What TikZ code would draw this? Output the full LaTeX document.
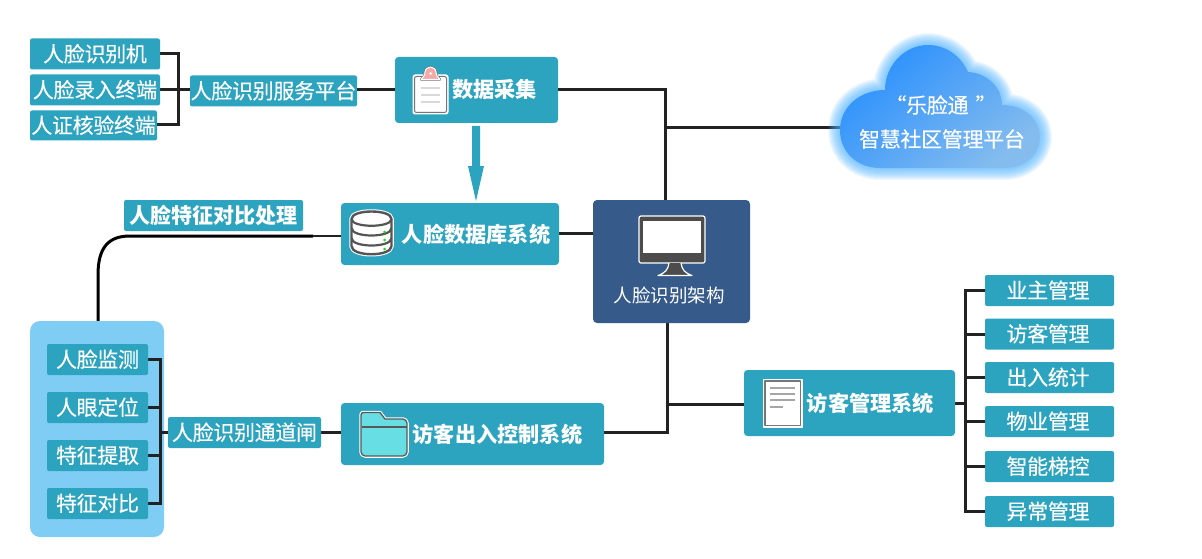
\documentclass[tikz,border=0pt]{standalone}
\usepackage{fontspec}
\setmainfont{Noto Sans CJK SC}
\newfontfamily\semi[FakeBold=0.25,LetterSpace=-1.5]{Noto Sans CJK SC}
\definecolor{teal}{HTML}{2CA3BF}
\definecolor{navy}{HTML}{365B8A}
\definecolor{wire}{HTML}{222222}
\definecolor{panel}{HTML}{7FCDF5}
\definecolor{icong}{HTML}{777777}
\definecolor{clip}{HTML}{F5A8A8}
\definecolor{foldc}{HTML}{67DDE4}
\definecolor{glow}{HTML}{4FB2FF}
\definecolor{cloudA}{HTML}{2A90FD}
\definecolor{cloudB}{HTML}{84BCEE}
\definecolor{dbg}{HTML}{555555}
\tikzset{
 x=1pt,y=-1pt,
 tbox/.style={fill=teal,rounded corners=2pt,inner sep=0pt,text=white,font=\fontsize{21}{21}\semi,minimum height=31pt,text height=17pt,text depth=1.5pt},
 rcol/.style={tbox,minimum width=129pt,execute at end node=\hspace*{3pt}},
 bbox/.style={fill=teal,rounded corners=3.5pt,inner sep=0pt},
 wirel/.style={draw=wire,line width=3pt},
 icon/.style={line join=round},
 bt/.style={text=white,font=\fontsize{21.2}{21}\selectfont\bfseries,inner sep=0pt},
}
\begin{document}
\begin{tikzpicture}
\useasboundingbox (0,0) rectangle (1202,559);
\node[fill=panel,rounded corners=10pt,minimum width=134pt,minimum height=216pt,inner sep=0pt] (pan) at (97,429) {};
\coordinate (cw) at (840,127.5);
\coordinate (brA) at (178,90);
\coordinate (brB) at (160,432);
\coordinate (brC) at (965,403);
\coordinate (tj) at (665,127.5);
\coordinate (bj) at (667,404);
% connectors
\draw[wirel] (160,54) -| (brA |- 0,125) -- (157,125);
\draw[wirel] (160,90) -- (190,90);
\draw[wirel] (357,90) -- (395,90);
\draw[wirel] (558,90) -| (665,200);
\draw[wirel] (tj) -- (cw);
\draw[wirel] (559,233.5) -- (593,233.5);
\draw[wirel] (667,323) -- (667,432.5) -- (604,432.5);
\draw[wirel] (bj) -- (744,404);
\draw[wirel] (321,432.5) -- (341,432.5);
\draw[wirel] (148,359.5) -| (brB |- 0,503.5) -- (148,503.5);
\draw[wirel] (148,407.5) -- (brB |- 0,407.5);
\draw[wirel] (148,455.5) -- (brB |- 0,455.5);
\draw[wirel] (brB) -- (168,432);
\draw[wirel] (955,403) -- (brC);
\draw[wirel] (985,290.5) -| (brC |- 0,511.5) -- (985,511.5);
\foreach \y in {334,377.5,421.5,466.5} \draw[wirel] (985,\y) -- (brC |- 0,\y);
\draw[draw=black,line width=3pt] (pan.north -| 98,0) -- (98,275) .. controls (98,248) and (108,236) .. (130,236) -- (313,236);
\draw[draw=wire,line width=1.5pt] (313,236) -- (341,236);
% boxes
\node[tbox,minimum width=130pt] (a1) at (95,54) {人脸识别机};
\node[tbox,minimum width=130pt] (a2) at (95,90) {人脸录入终端};
\node[tbox,minimum width=127pt,minimum height=30pt] (a3) at (93.5,125.5) {人证核验终端};
\node[tbox,minimum width=167pt] (svc) at (273.5,91) {人脸识别服务平台};
\node[bbox,minimum width=163pt,minimum height=66pt] (data) at (476.5,90) {};
\node[bbox,minimum width=218pt,minimum height=62pt] (db) at (450,234) {};
\node[tbox,minimum width=179pt,font=\fontsize{21}{21}\selectfont\bfseries] (cmp) at (213.5,215.5) {人脸特征对比处理};
\node[fill=navy,rounded corners=4pt,minimum width=157pt,minimum height=123pt,inner sep=0pt] (mon) at (671.5,261.5) {};
\node[tbox,minimum width=101pt] (f1) at (97.5,359.5) {人脸监测};
\node[tbox,minimum width=101pt] (f2) at (97.5,407.5) {人眼定位};
\node[tbox,minimum width=101pt] (f3) at (97.5,455.5) {特征提取};
\node[tbox,minimum width=101pt] (f4) at (97.5,503.5) {特征对比};
\node[tbox,minimum width=153pt] (gate) at (244.5,432.5) {人脸识别通道闸};
\node[bbox,minimum width=263pt,minimum height=62pt] (ctl) at (472.5,434) {};
\node[bbox,minimum width=211pt,minimum height=66pt] (vis) at (849.5,403) {};
\node[rcol] (m1) at (1049.5,290.5) {业主管理};
\node[rcol] (m2) at (1049.5,334) {访客管理};
\node[rcol] (m3) at (1049.5,377.5) {出入统计};
\node[rcol] (m4) at (1049.5,421.5) {物业管理};
\node[rcol] (m5) at (1049.5,466.5) {智能梯控};
\node[rcol] (m6) at (1049.5,511.5) {异常管理};
% big arrow
\fill[teal] (472,126) -- (480,126) -- (480,166) -- (484,166) -- (476,201) -- (468,166) -- (472,166) -- cycle;
% cloud
\def\cloudpath{(880,168) .. controls (857,168) and (840,152) .. (840,130) .. controls (840,107) and (860,90) .. (885,90) .. controls (885,65) and (905,45) .. (928,45) .. controls (946,45) and (961,56) .. (968,72) .. controls (987,73) and (1002,87) .. (1002,105) .. controls (1024,105) and (1040,119) .. (1040,137) .. controls (1040,155) and (1024,168) .. (1005,168) -- cycle}
\foreach \w in {24,22,20,18,16,14,12,10,8,6,4,2}
  \draw[draw=glow,opacity=.09,line width=\w pt,line join=round] \cloudpath;
\shade[shading=axis,left color=cloudA,right color=cloudB,shading angle=40] \cloudpath;
\node[text=white,font=\fontsize{21}{21}\semi,inner sep=0pt] (c1) at (941,105) {“乐脸通\,\,”};
\node[text=white,font=\fontsize{21}{21}\semi,inner sep=0pt] (c2) at (942,139) {智慧社区管理平台};
% clipboard icon
\begin{scope}[icon]
\draw[draw=white,line width=1pt,fill=white,rounded corners=2pt] (413,75) rectangle (448,114);
\draw[draw=icong,line width=1pt,fill=white,rounded corners=2pt] (414.5,76.5) rectangle (446.5,112.5);
\draw[draw=icong,line width=2.2pt,fill=clip] (421,79.5) .. controls (423,77) and (425,76) .. (425,72) .. controls (426,65.5) and (435,65.5) .. (436,72) .. controls (436,76) and (438,77) .. (440,79.5) -- cycle;
\draw[draw=white,line width=1pt,fill=clip] (421,79.5) .. controls (423,77) and (425,76) .. (425,72) .. controls (426,65.5) and (435,65.5) .. (436,72) .. controls (436,76) and (438,77) .. (440,79.5) -- cycle;
\fill[white] (430.5,73.5) circle (1.5);
\foreach \y in {88,95,102} \draw[draw=black!15,line width=1.5pt] (421,\y) -- (440,\y);
\end{scope}
\node[bt] (t1) at (494.5,89.5) {数据采集};
% db icon
\begin{scope}[icon]
\def\cyl{(351.5,219) .. controls (351.5,209) and (391.5,209) .. (391.5,219) -- (391.5,246) .. controls (391.5,257) and (351.5,257) .. (351.5,246) -- cycle}
\draw[draw=white,line width=4.5pt,fill=white] \cyl;
\draw[draw=dbg,line width=2.4pt,fill=white] \cyl;
\draw[draw=dbg,line width=2.2pt] (351.5,219) .. controls (351.5,228) and (391.5,228) .. (391.5,219);
\draw[draw=dbg,line width=2.2pt] (351.5,228) .. controls (351.5,238) and (391.5,238) .. (391.5,228);
\draw[draw=dbg,line width=2.2pt] (351.5,238) .. controls (351.5,248) and (391.5,248) .. (391.5,238);
\foreach \y in {232,240,249} \fill[green!85!black!90!white] (384.5,\y) circle (1.5);
\end{scope}
\node[bt] (t2) at (476,234.5) {人脸数据库系统};
% monitor
\begin{scope}[icon]
\draw[draw=white,line width=1.2pt,fill=black!70,rounded corners=2pt] (639,216) rectangle (705,263);
\fill[white] (643,221) rectangle (701,253);
\draw[draw=white,line width=1.2pt,fill=black!70] (669,263) .. controls (668,270) and (665,273) .. (658,275.5) -- (692,275.5) .. controls (685,273) and (682,270) .. (681,263);
\fill[black!70] (639.6,257) rectangle (704.4,262.4);
\end{scope}
\node[text=white,font=\fontsize{18.5}{18}\selectfont,inner sep=0pt] (t3) at (669,295.5) {人脸识别架构};
% folder
\begin{scope}[icon]
\def\fold{(364,412.5) -- (380,412.5) -- (385,419) -- (403,419) .. controls (405,419) and (407,421) .. (407,423) -- (407,452) .. controls (407,454) and (405,456) .. (403,456) -- (365,456) .. controls (363,456) and (361,454) .. (361,452) -- (361,415) .. controls (361,413) and (362,412.5) .. (364,412.5) -- cycle}
\draw[draw=white,line width=3.5pt,fill=white] \fold;
\draw[draw=black!65,line width=1.3pt,fill=foldc] \fold;
\draw[draw=black!65,line width=1.3pt] (361.5,427) -- (406.5,427);
\end{scope}
\node[bt] (t4) at (497.5,434.5) {访客出入控制系统};
% document
\begin{scope}[icon]
\draw[draw=white,line width=1pt,fill=white] (763.5,379.5) rectangle (802,427);
\draw[draw=icong,line width=1.8pt] (765,381) rectangle (800.5,425.5);
\foreach \y/\e in {388/795,394/795,400/795,407/783} \draw[draw=black!35,line width=1.3pt] (770,\y) -- (\e,\y);
\end{scope}
\node[bt] (t5) at (870.5,403.5) {访客管理系统};
\end{tikzpicture}
\end{document}
